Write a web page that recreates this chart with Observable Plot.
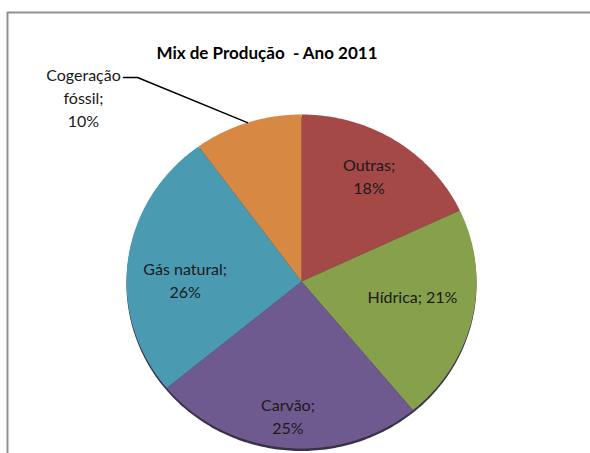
<!DOCTYPE html>
<html><head><meta charset="utf-8">
<script src="https://cdn.jsdelivr.net/npm/d3@7"></script>
<script src="https://cdn.jsdelivr.net/npm/@observablehq/plot@0.6"></script>
<style>body{margin:0;background:#fff}</style>
</head><body><div id="chart"></div>
<script>
// ---- data ----
const title = "Mix de Produção  - Ano 2011";
const categories = ["Outras", "Hídrica", "Carvão", "Gás natural", "Cogeração fóssil"];
const values = [18, 21, 25, 26, 10];
const labels = ["Outras;\n18%", "Hídrica; 21%", "Carvão;\n25%", "Gás natural;\n26%", "Cogeração\nfóssil;\n10%"];

// ---- styles / layout ----
const colors = ["#a54848", "#86a04b", "#6f5a8f", "#4a9bb1", "#d78944"];
const W = 590, H = 453, cx = 301, cy = 281, rx = 175, ry = 167;
const mL = 7, mT = 12;
const xDom = [(mL - cx) / rx, (W - cx) / rx];
const yDom = [(cy - H) / ry, (cy - mT) / ry];
const labelR = [0.72, 0.65, 0.82, 0.67, null];
const labelDy = [-5, -10, -3, 12, 0];
const font = "Lato, 'Open Sans', sans-serif";

const total = d3.sum(values);
const rad = a => a * Math.PI / 180;
let acc = 0;
const slices = categories.map((c, i) => {
  const a0 = acc / total * 360, a1 = (acc + values[i]) / total * 360;
  acc += values[i];
  return {cat: c, a0, a1, mid: (a0 + a1) / 2, label: labels[i], i};
});
const pts = [];
for (const s of slices) {
  pts.push({cat: s.cat, x: 0, y: 0});
  for (let a = s.a0; a <= s.a1 + 1e-9; a += 0.5) pts.push({cat: s.cat, x: Math.sin(rad(a)), y: Math.cos(rad(a))});
  pts.push({cat: s.cat, x: Math.sin(rad(s.a1)), y: Math.cos(rad(s.a1))});
}
const shadow = d3.range(0, 361, 1).map(a => ({x: Math.sin(rad(a)), y: Math.cos(rad(a))}));

const inside = slices.filter((s, i) => labelR[i] != null).map(s => ({
  label: s.label,
  x: labelR[s.i] * Math.sin(rad(s.mid)),
  y: labelR[s.i] * Math.cos(rad(s.mid)),
  dy: labelDy[s.i]
}));
const cog = slices[4];
const leader = [
  {x: Math.sin(rad(cog.mid)), y: Math.cos(rad(cog.mid))},
  {x: (137 - cx) / rx, y: (cy - 77) / ry},
  {x: (123 - cx) / rx, y: (cy - 77) / ry}
];
const outside = [{label: cog.label, x: (83 - cx) / rx, y: (cy - 96) / ry}];

const chart = Plot.plot({
  width: W, height: H,
  marginLeft: mL, marginTop: mT, marginRight: 0, marginBottom: 0,
  x: {domain: xDom, axis: null},
  y: {domain: yDom, axis: null},
  color: {domain: categories, range: colors},
  style: {fontFamily: font, background: "#fff", overflow: "visible"},
  marks: [
    Plot.ruleX([xDom[0]], {stroke: "#8f8f8f", strokeWidth: 2}),
    Plot.ruleY([yDom[1]], {stroke: "#8f8f8f", strokeWidth: 2}),
    Plot.line(shadow, {x: "x", y: "y", fill: "#3a3148", stroke: "none", curve: "linear-closed", dy: 2.5}),
    Plot.line(pts, {x: "x", y: "y", z: "cat", fill: "cat", stroke: "none", curve: "linear-closed"}),
    Plot.line(leader, {x: "x", y: "y", stroke: "#000", strokeWidth: 1.5}),
    ...inside.map(d => Plot.text([d], {x: "x", y: "y", text: "label", fontSize: 16, fill: "#1a1a1a", lineHeight: 1.45, dy: d.dy})),
    Plot.text(outside, {x: "x", y: "y", text: "label", fontSize: 16, fill: "#1a1a1a", lineHeight: 1.45}),
    Plot.text([title], {frameAnchor: "top", text: d => d, dx: -32, dy: 34, fontSize: 17, fontWeight: "bold", fill: "#000"})
  ]
});
document.getElementById("chart").appendChild(chart);
</script>
</body></html>
